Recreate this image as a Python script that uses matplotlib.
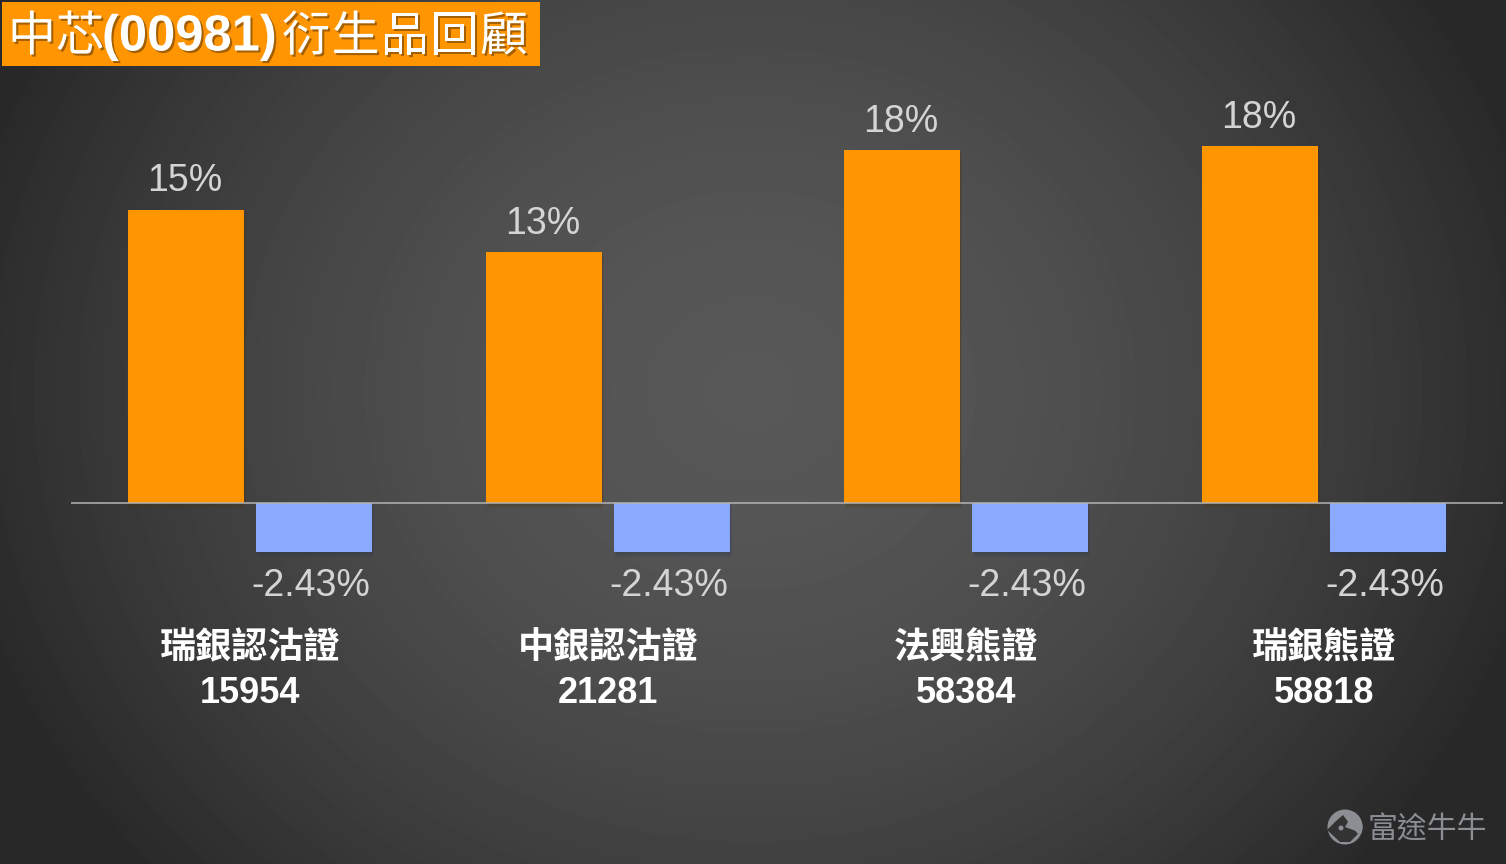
import numpy as np
import matplotlib
matplotlib.use("Agg")
import matplotlib.pyplot as plt
import matplotlib.patheffects as pe
from matplotlib.patches import Rectangle, Circle, Wedge, Polygon

categories = ["瑞銀認沽證", "中銀認沽證", "法興熊證", "瑞銀熊證"]
codes = ["15954", "21281", "58384", "58818"]
warrant_returns = [14.55, 12.45, 17.5, 17.7]
warrant_labels = ["15%", "13%", "18%", "18%"]
stock_returns = [-2.43, -2.43, -2.43, -2.43]
stock_labels = ["-2.43%", "-2.43%", "-2.43%", "-2.43%"]

W, H = 1506, 864
CJK = "Noto Sans CJK TC"
LAT = "Liberation Sans"
ORANGE = "#ff9500"
BLUE = "#89aaff"

fig = plt.figure(figsize=(W / 100, H / 100), dpi=100)

# background radial gradient and decorations, in pixel coordinates
bg = fig.add_axes([0, 0, 1, 1], zorder=0)
yy, xx = np.mgrid[0:H, 0:W]
r = np.sqrt(((xx - 750) / 900) ** 2 + ((yy - 390) / 800) ** 2) / 0.9
level = np.clip(0x58 - (0x58 - 0x29) * np.clip(r, 0, 1) ** 1.7, 0, 255) / 255
bg.imshow(level, cmap="gray", vmin=0, vmax=1, extent=(0, W, H, 0), aspect="auto", interpolation="bilinear")
bg.set_xlim(0, W)
bg.set_ylim(H, 0)
bg.axis("off")

# title
bg.add_patch(Rectangle((2, 2), 538, 64, fc=ORANGE, ec="none"))
shadow = [pe.SimplePatchShadow(offset=(1.5, -1.5), shadow_rgbFace="#9a5a00", alpha=0.9), pe.Normal()]
bg.text(8, 37, "中芯", family=CJK, fontsize=34.5, color="white", va="center", ha="left", path_effects=shadow)
bg.text(102, 37, "(00981)", family=LAT, fontsize=36.5, weight="bold", color="white", va="center", ha="left", path_effects=shadow)
for i, ch in enumerate("衍生品回顧"):
    bg.text(306 + i * 49.5, 37, ch, family=CJK, fontsize=34.5, color="white", va="center", ha="center", path_effects=shadow)

# watermark
wm = "#8b8f94"
bg.add_patch(Circle((1345, 827), 17.5, fc=wm, ec="none"))
bg.add_patch(Polygon([[1327, 830], [1336, 821], [1343, 815], [1352, 827], [1358, 834], [1350, 842], [1340, 842]], fc="#333333", ec="none"))
bg.add_patch(Circle((1341, 828), 2.5, fc=wm, ec="none"))
bg.add_patch(Wedge((1345, 827), 17.5, 300, 20, fc=wm, ec="none"))
bg.text(1427, 830, "富途牛牛", family=CJK, fontsize=21.5, color=wm, va="center", ha="center")

# chart axes: one category step = 358 px, one percent = 20.16 px
ax = fig.add_axes([71 / W, 1 - 604 / H, 1432 / W, 504 / H], zorder=1)
ax.patch.set_alpha(0)
ax.set_xlim(-0.5, 3.5)
ax.set_ylim(-5, 20)
x = np.arange(len(categories))
bw = 116 / 358
offs = 64 / 358
bar_fx = [pe.SimplePatchShadow(offset=(0.8, -0.8), alpha=0.12),
          pe.SimplePatchShadow(offset=(1.2, -2.0), alpha=0.14),
          pe.SimplePatchShadow(offset=(0.4, -3.2), alpha=0.14),
          pe.Normal()]
b1 = ax.bar(x - offs, warrant_returns, bw, color=ORANGE, path_effects=bar_fx, zorder=2)
b2 = ax.bar(x + offs, stock_returns, bw, color=BLUE, path_effects=bar_fx, zorder=2)
ax.axhline(0, color="#b4b4b4", lw=1.1, zorder=3)

vfont = dict(family=LAT, fontsize=27, color="#d4d4d4", ha="center", va="center")
for xi, v, t in zip(x - offs, warrant_returns, warrant_labels):
    ax.annotate(t, (xi, v), xytext=(-1.2, 20.5), textcoords="offset points", **vfont)
for xi, v, t in zip(x + offs, stock_returns, stock_labels):
    ax.annotate(t, (xi, v), xytext=(-2, -24.5), textcoords="offset points", **vfont)

ax.set_xticks(x)
ax.set_xticklabels([f"{c}\n{n}" for c, n in zip(categories, codes)], family=[LAT, CJK],
                   fontsize=26, weight="bold", color="white", linespacing=1.38)
ax.tick_params(axis="x", length=0, pad=19.5)
ax.set_yticks([])
for s in ax.spines.values():
    s.set_visible(False)

fig.savefig("out.png", dpi=100)
